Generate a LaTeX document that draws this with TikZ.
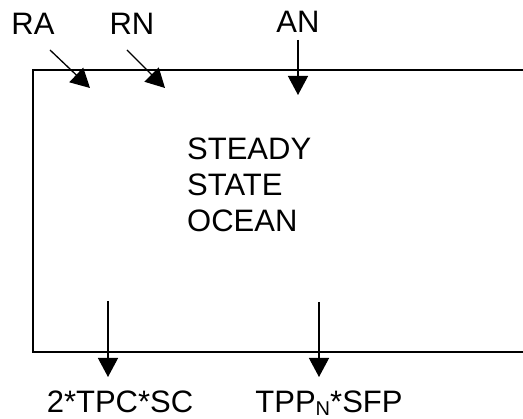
\documentclass[tikz,border=0pt]{standalone}
\usepackage{fontspec}
\setmainfont{Liberation Sans}
\usetikzlibrary{arrows.meta}
\tikzset{
  ocean/.style={line width=1.6pt},
  lbl/.style={font=\fontsize{31}{36}\selectfont,inner sep=0pt},
  flow/.style={-{Triangle[length=19pt,width=20pt]},line width=1.3pt},
}
\newcommand{\lowsub}[1]{\raisebox{-3pt}{\fontsize{20}{20}\selectfont #1}}

\begin{document}
\begin{tikzpicture}[x=1pt,y=-1pt]
\useasboundingbox (0,0) rectangle (523,419);
% box, open on the right
\draw[ocean] (523,70) -- (33,70) -- (33,352) -- (523,352);
\node[lbl,anchor=north west,align=left] (so) at (187,138) {STEADY\\STATE\\OCEAN};
% inputs at the top
\node[lbl,anchor=base] (ra) at (33,35) {RA};
\node[lbl,anchor=base] (rn) at (132,35) {RN};
\node[lbl,anchor=base] (an) at (298,33) {AN};
\coordinate (ra-s) at (50,50);
\coordinate (ra-e) at (90,88);
\coordinate (rn-s) at (127,50);
\coordinate (rn-e) at (165,88);
\coordinate (an-s) at (298,40);
\coordinate (an-e) at (298,95);
\draw[flow] (ra-s) -- (ra-e);
\draw[flow] (rn-s) -- (rn-e);
\draw[flow] (an-s) -- (an-e);
% outputs at the bottom
\node[lbl,anchor=base] (tpc) at (120,413) {2*TPC*SC};
\node[lbl,anchor=base] (tpp) at (329,413) {TPP\lowsub{N}*SFP};
\coordinate (tpc-s) at (108,301);
\coordinate (tpc-e) at (108,377);
\coordinate (tpp-s) at (319,302);
\coordinate (tpp-e) at (319,377);
\draw[flow] (tpc-s) -- (tpc-e);
\draw[flow] (tpp-s) -- (tpp-e);
\end{tikzpicture}
\end{document}
